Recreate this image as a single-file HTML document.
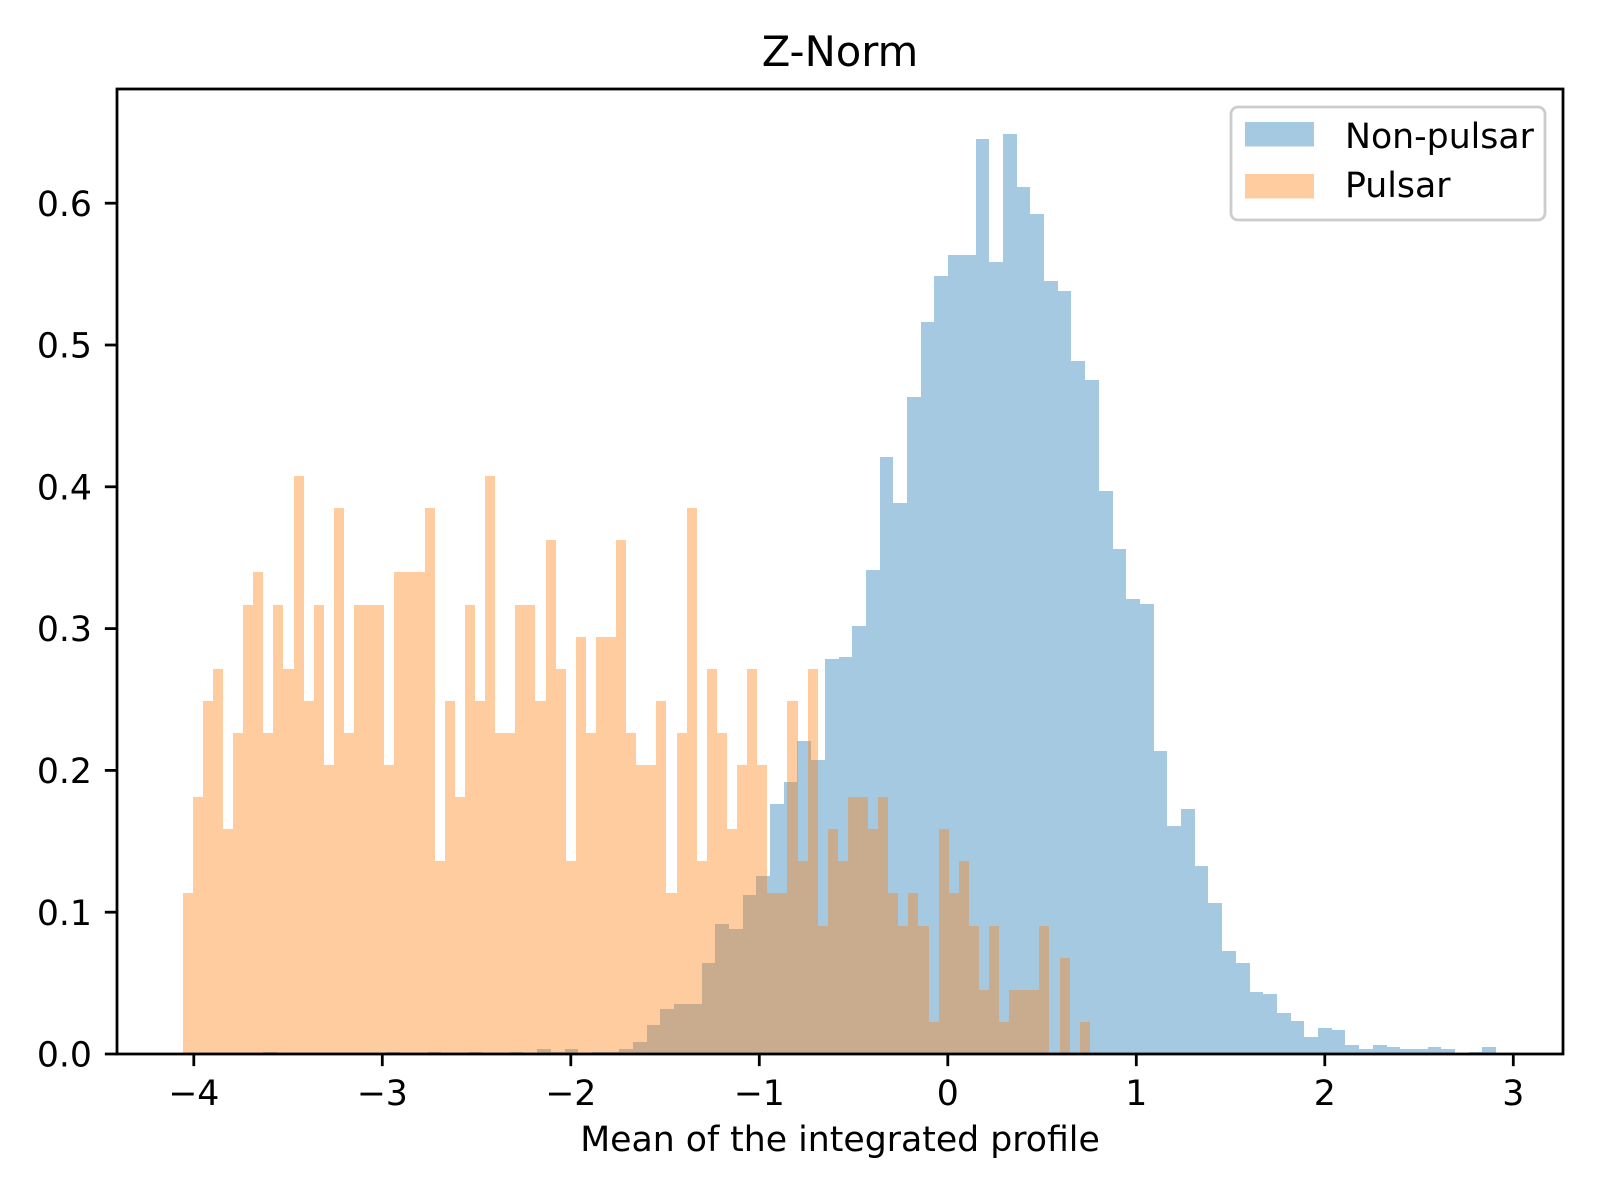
<!DOCTYPE html>
<html>
<head>
<meta charset="utf-8">
<style>
  html, body { margin: 0; padding: 0; background: #ffffff; }
  svg { display: block; }
  text { font-family: "DejaVu Sans", "Liberation Sans", sans-serif; fill: #000; }
  #bars-nonpulsar rect, #bars-pulsar rect { shape-rendering: crispEdges; }
</style>
</head>
<body>
<svg id="chart" width="1600" height="1200" viewBox="0 0 1600 1200" xmlns="http://www.w3.org/2000/svg">
  <rect x="0" y="0" width="1600" height="1200" fill="#ffffff"/>
  <g id="bars-nonpulsar"></g>
  <g id="bars-pulsar"></g>
  <rect x="117" y="89" width="1446" height="965" fill="none" stroke="#000" stroke-width="2.78"/>
  <g id="xticks"></g>
  <g id="yticks"></g>
  <text x="840" y="66" font-size="41.7" text-anchor="middle">Z-Norm</text>
  <text x="840" y="1151" font-size="34.7" text-anchor="middle">Mean of the integrated profile</text>
  <g>
    <rect x="1231" y="107" width="314" height="113" rx="7" fill="#ffffff" fill-opacity="0.8" stroke="#cccccc" stroke-width="2.78"/>
    <rect x="1245" y="122" width="69" height="24.5" fill="#1f77b4" fill-opacity="0.4"/>
    <text x="1345" y="148" font-size="34.7">Non-pulsar</text>
    <rect x="1245" y="174" width="69" height="24.5" fill="#ff7f0e" fill-opacity="0.4"/>
    <text x="1345" y="197" font-size="34.7">Pulsar</text>
  </g>
</svg>
<script>
// ---- data ----
const nonPulsarStart = -3.632;
const nonPulsarBinWidth = 0.07268;
const nonPulsarDensity = [
  0.0014,0,0,0,0,0,0,0,0,0.0014,0,0,0.0014,0,0,0.0014,0,0,0.0014,0,
  0.0036,0.0015,0.0036,0,0.0015,0.0015,0.0036,0.0083,0.0205,0.0316,0.0353,0.0353,0.0642,0.0916,0.0881,0.1121,0.1255,
  0.1763,0.1918,0.2207,0.2073,0.2786,0.2800,0.3018,0.3413,
  0.4211,0.3884,0.4632,0.5161,0.5485,0.5636,0.5636,0.6453,0.5585,0.6489,0.6116,0.5923,0.5452,0.5382,0.4889,0.4752,0.3971,0.3561,0.3210,0.3173,
  0.2137,0.1608,0.1728,0.1326,0.1065,0.0726,0.0642,0.0437,0.0423,0.0289,0.0233,0.0120,0.0183,0.0169,0.0063,0.0035,0.0063,0.0049,0.0035,0.0035,0.0049,0.0035,0,0.0014,0.0049
];
const pulsarStart = -4.0589;
const pulsarBinWidth = 0.05347;
const pulsarUnit = 0.02264;
const pulsarCounts = [
  5,8,11,12,7,10,14,15,10,14,12,18,11,14,9,17,10,14,14,14,9,15,15,15,17,6,11,8,
  14,11,18,10,10,14,14,11,16,12,6,13,10,13,13,16,10,9,9,11,5,10,17,6,12,10,7,9,12,9,
  5,5,11,6,12,4,7,6,8,8,7,8,5,4,5,4,1,7,5,6,4,2,4,1,2,2,2,4,0,3,0,1
];
const xTickValues = [-4,-3,-2,-1,0,1,2,3];
const xTickLabels = ["\u22124","\u22123","\u22122","\u22121","0","1","2","3"];
const yTickValues = [0,0.1,0.2,0.3,0.4,0.5,0.6];
const yTickLabels = ["0.0","0.1","0.2","0.3","0.4","0.5","0.6"];

// ---- scales ----
const X0PX = 947.8, XSCALE = 188.5;
const Y0PX = 1054, YSCALE = 1418;
function xs(v) { return X0PX + v * XSCALE; }
function ys(v) { return Y0PX - v * YSCALE; }
const NS = "http://www.w3.org/2000/svg";

function drawBars(groupId, start, width, values, color, namePrefix) {
  const g = document.getElementById(groupId);
  values.forEach(function (v, i) {
    if (v <= 0) return;
    const x1 = Math.round(xs(start + i * width));
    const x2 = Math.round(xs(start + (i + 1) * width));
    const y1 = Math.round(ys(v));
    const r = document.createElementNS(NS, "rect");
    r.setAttribute("x", x1);
    r.setAttribute("y", y1);
    r.setAttribute("width", x2 - x1);
    r.setAttribute("height", Y0PX - y1);
    r.setAttribute("fill", color);
    r.setAttribute("fill-opacity", "0.4");
    
    
    g.appendChild(r);
  });
}
drawBars("bars-nonpulsar", nonPulsarStart, nonPulsarBinWidth, nonPulsarDensity, "#1f77b4", "non-pulsar");
drawBars("bars-pulsar", pulsarStart, pulsarBinWidth, pulsarCounts.map(function (c) { return c * pulsarUnit; }), "#ff7f0e", "pulsar");

// ---- axes ----
const xg = document.getElementById("xticks");
xTickValues.forEach(function (v, i) {
  const px = xs(v);
  const t = document.createElementNS(NS, "line");
  t.setAttribute("x1", px); t.setAttribute("x2", px);
  t.setAttribute("y1", Y0PX); t.setAttribute("y2", Y0PX + 12.15);
  t.setAttribute("stroke", "#000"); t.setAttribute("stroke-width", "2.78");
  
  
  xg.appendChild(t);
  const l = document.createElementNS(NS, "text");
  l.setAttribute("x", px); l.setAttribute("y", 1105);
  l.setAttribute("font-size", "34.7"); l.setAttribute("text-anchor", "middle");
  l.textContent = xTickLabels[i];
  
  
  xg.appendChild(l);
});
const yg = document.getElementById("yticks");
yTickValues.forEach(function (v, i) {
  const py = ys(v);
  const t = document.createElementNS(NS, "line");
  t.setAttribute("x1", 117 - 12.15); t.setAttribute("x2", 117);
  t.setAttribute("y1", py); t.setAttribute("y2", py);
  t.setAttribute("stroke", "#000"); t.setAttribute("stroke-width", "2.78");
  
  
  yg.appendChild(t);
  const l = document.createElementNS(NS, "text");
  l.setAttribute("x", 92); l.setAttribute("y", py + 12.6);
  l.setAttribute("font-size", "34.7"); l.setAttribute("text-anchor", "end");
  l.textContent = yTickLabels[i];
  
  
  yg.appendChild(l);
});
</script>
</body>
</html>
